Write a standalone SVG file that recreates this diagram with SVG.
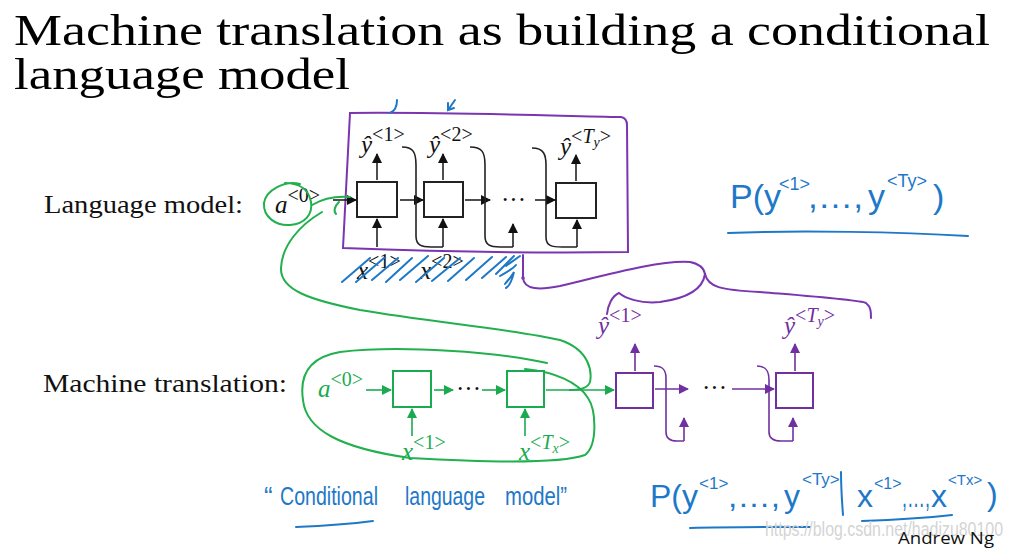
<svg xmlns="http://www.w3.org/2000/svg" width="1011" height="549" viewBox="0 0 1011 549">
<style>
.title{font-family:"Liberation Serif",serif;font-size:44px;fill:#000}
.lbl{font-family:"Liberation Serif",serif;font-size:25px;fill:#111}
.mi{font-family:"Liberation Serif",serif;font-style:italic;font-size:25px}
.sup{font-style:normal;font-size:20px}
.blk{fill:none;stroke:#222;stroke-width:1.6}
.box{fill:#fff;stroke:#222;stroke-width:2}
.gbox{fill:#fff;stroke:#1aab50;stroke-width:2}
.pbox{fill:#fff;stroke:#7030a0;stroke-width:2}
.ga{fill:none;stroke:#1aab50;stroke-width:1.6}
.pa{fill:none;stroke:#7030a0;stroke-width:1.6}
.hw{fill:none;stroke:#1e78c8;stroke-width:2;stroke-linecap:round}
.hwt{font-family:"Liberation Sans",sans-serif;fill:#1e78c8}
.gpen{fill:none;stroke:#22b04e;stroke-width:2;stroke-linecap:round}
.ppen{fill:none;stroke:#7a35b0;stroke-width:2;stroke-linecap:round}
</style>
<defs>
<marker id="ak" markerWidth="10" markerHeight="10" refX="9" refY="5" orient="auto" markerUnits="userSpaceOnUse"><path d="M0,0 L10,5 L0,10 Z" fill="#111"/></marker>
<marker id="ag" markerWidth="10" markerHeight="10" refX="9" refY="5" orient="auto" markerUnits="userSpaceOnUse"><path d="M0,0 L10,5 L0,10 Z" fill="#1aab50"/></marker>
<marker id="ap" markerWidth="10" markerHeight="10" refX="9" refY="5" orient="auto" markerUnits="userSpaceOnUse"><path d="M0,0 L10,5 L0,10 Z" fill="#7030a0"/></marker>
</defs>

<g id="title">
<text class="title" x="14" y="45" textLength="976" lengthAdjust="spacingAndGlyphs">Machine translation as building a conditional</text>
<text class="title" x="14" y="89" textLength="336" lengthAdjust="spacingAndGlyphs">language model</text>
</g>

<g id="labels">
<text class="lbl" x="44" y="213" textLength="199" lengthAdjust="spacingAndGlyphs">Language model:</text>
<text class="lbl" x="43" y="392" textLength="244" lengthAdjust="spacingAndGlyphs">Machine translation:</text>
</g>

<g id="lm-frame">
<path class="ppen" d="M350,113 C450,112 560,116 621,117 C626,118 627,121 627,125 L628,252 C560,253 450,252 343,248 L350,113 Z"/>
<path class="ppen" d="M523,255 L523,278 C524,290 540,290 560,286 C610,274 660,260 690,262 C700,264 704,268 705,274"/>
<circle cx="523" cy="278" r="1.8" fill="#7a35b0"/>
<path class="ppen" d="M705,274 C703,288 690,298 660,302 C640,304 625,298 619,293 C612,296 608,305 607,314"/>
<path class="ppen" d="M705,274 C708,287 720,290 760,292 C820,297 860,300 866,303 C871,307 871,312 871,318"/>
</g>

<g id="lm-a0"><text class="mi" x="275" y="213" fill="#111">a<tspan class="sup" dy="-11">&lt;0&gt;</tspan></text></g>
<g id="lm-cell1"><rect class="box" x="357" y="182" width="40" height="35"/><text class="mi" x="361" y="153" fill="#111">ŷ<tspan class="sup" dy="-12">&lt;1&gt;</tspan></text><text class="mi" x="357" y="279" fill="#111">x<tspan class="sup" dy="-11">&lt;1&gt;</tspan></text></g>
<g id="lm-cell2"><rect class="box" x="424" y="182" width="39" height="35"/><text class="mi" x="429" y="153" fill="#111">ŷ<tspan class="sup" dy="-12">&lt;2&gt;</tspan></text><text class="mi" x="420" y="279" fill="#111">x<tspan class="sup" dy="-11">&lt;2&gt;</tspan></text></g>
<g id="lm-dots"><text class="lbl" x="501" y="208">···</text></g>
<g id="lm-cell3"><rect class="box" x="556" y="183" width="40" height="35"/><text class="mi" x="560" y="155" fill="#111">ŷ<tspan class="sup" dy="-12">&lt;<tspan font-style="italic">T</tspan><tspan font-style="italic" font-size="14" dy="4">y</tspan><tspan dy="-4">&gt;</tspan></tspan></text></g>

<g id="lm-connectors">
<line class="blk" x1="333" y1="200" x2="356" y2="200" marker-end="url(#ak)"/>
<line class="blk" x1="400" y1="200" x2="423" y2="200" marker-end="url(#ak)"/>
<line class="blk" x1="465" y1="200" x2="490" y2="200" marker-end="url(#ak)"/>
<line class="blk" x1="535" y1="200" x2="555" y2="200" marker-end="url(#ak)"/>
<line class="blk" x1="377" y1="180" x2="377" y2="154" marker-end="url(#ak)"/>
<line class="blk" x1="443" y1="180" x2="443" y2="154" marker-end="url(#ak)"/>
<line class="blk" x1="576" y1="181" x2="576" y2="155" marker-end="url(#ak)"/>
<line class="blk" x1="377" y1="247" x2="377" y2="219" marker-end="url(#ak)"/>
<line class="blk" x1="443" y1="247" x2="443" y2="219" marker-end="url(#ak)"/>
<line class="blk" x1="513" y1="247" x2="513" y2="224" marker-end="url(#ak)"/>
<line class="blk" x1="577" y1="247" x2="577" y2="220" marker-end="url(#ak)"/>
<path class="blk" d="M402,147 C413,147 416,152 416,165 L416,236 C416,245 421,247 431,247 L443,247"/>
<path class="blk" d="M470,147 C482,147 485,152 485,165 L485,236 C485,245 490,247 500,247 L513,247"/>
<path class="blk" d="M532,148 C544,148 546,155 546,165 L546,237 C546,246 552,247 562,247 L577,247"/>
</g>

<g id="blue-marks">
<path class="hw" d="M397,100 C397,106 395,111 390,113"/>
<path class="hw" d="M455,100 L448,110 M448,103 L448,110 L454,108"/>
<path class="hw" d="M342,282 L370,258 M356,282 L384,258 M372,280 L398,258 M386,282 L412,258 M400,280 L428,256 M416,282 L444,258 M432,281 L460,258 M448,281 L474,258 M466,280 L492,257 M482,278 L506,257 M496,274 L514,256 M506,266 L520,256"/>
<path class="hw" d="M500,276 C506,272 512,270 516,265 M505,284 C508,280 512,276 514,272 C512,280 510,286 506,288"/>
</g>

<g id="green-marks">
<path class="gpen" d="M300,184 C285,180 266,190 264,203 C263,217 276,226 290,225 C305,224 313,214 311,202 C309,190 300,183 285,183"/>
<path class="gpen" d="M312,205 C322,199 336,196 350,197 M339,202 C335,206 333,211 336,214"/>
<path class="gpen" d="M322,212 C300,225 282,245 281,268 C280,290 310,300 360,310 C430,322 520,330 560,340 C590,350 592,372 590,382 C588,388 580,390 570,390"/>
<path class="gpen" d="M547,363 C500,352 400,345 340,352 C305,358 300,380 303,400 C306,430 340,448 410,458 C480,462 560,464 585,455 C598,445 596,410 588,398 C578,382 555,372 525,369"/>
</g>

<g id="mt-a0"><text class="mi" x="318" y="397" fill="#1aab50">a<tspan class="sup" dy="-11">&lt;0&gt;</tspan></text></g>
<g id="mt-enc1"><rect class="gbox" x="393" y="371" width="38" height="36"/><text class="mi" x="402" y="460" fill="#1aab50">x<tspan class="sup" dy="-11">&lt;1&gt;</tspan></text></g>
<g id="mt-enc-dots"><text class="lbl" x="456" y="397" fill="#1aab50">···</text></g>
<g id="mt-enc2"><rect class="gbox" x="507" y="371" width="37" height="36"/><text class="mi" x="519" y="460" fill="#1aab50">x<tspan class="sup" dy="-11">&lt;<tspan font-style="italic">T</tspan><tspan font-style="italic" font-size="14" dy="4">x</tspan><tspan dy="-4">&gt;</tspan></tspan></text></g>
<g id="mt-dec1"><rect class="pbox" x="616" y="373" width="37" height="35"/><text class="mi" x="598" y="334" fill="#7030a0">ŷ<tspan class="sup" dy="-12">&lt;1&gt;</tspan></text></g>
<g id="mt-dec-dots"><text class="lbl" x="702" y="396" fill="#7030a0">···</text></g>
<g id="mt-dec2"><rect class="pbox" x="776" y="373" width="37" height="35"/><text class="mi" x="784" y="334" fill="#7030a0">ŷ<tspan class="sup" dy="-12">&lt;<tspan font-style="italic">T</tspan><tspan font-style="italic" font-size="14" dy="4">y</tspan><tspan dy="-4">&gt;</tspan></tspan></text></g>

<g id="mt-connectors">
<line class="ga" x1="366" y1="390" x2="391" y2="390" marker-end="url(#ag)"/>
<line class="ga" x1="434" y1="390" x2="453" y2="390" marker-end="url(#ag)"/>
<line class="ga" x1="482" y1="390" x2="505" y2="390" marker-end="url(#ag)"/>
<line class="ga" x1="546" y1="390" x2="614" y2="390" marker-end="url(#ag)"/>
<line class="ga" x1="412" y1="436" x2="412" y2="409" marker-end="url(#ag)"/>
<line class="ga" x1="525" y1="436" x2="525" y2="409" marker-end="url(#ag)"/>
<line class="pa" x1="655" y1="389" x2="688" y2="389" marker-end="url(#ap)"/>
<line class="pa" x1="732" y1="389" x2="774" y2="389" marker-end="url(#ap)"/>
<line class="pa" x1="635" y1="371" x2="635" y2="344" marker-end="url(#ap)"/>
<line class="pa" x1="795" y1="371" x2="795" y2="344" marker-end="url(#ap)"/>
<path class="pa" d="M654,366 C663,366 666,370 666,378 L666,432 C666,438 670,441 677,441 L684,441"/>
<line class="pa" x1="684" y1="441" x2="684" y2="418" marker-end="url(#ap)"/>
<path class="pa" d="M757,366 C766,366 769,371 769,380 L769,432 C769,438 773,441 781,441 L793,441"/>
<line class="pa" x1="793" y1="441" x2="793" y2="418" marker-end="url(#ap)"/>
</g>

<g id="hw-top-formula" class="hwt">
<text font-size="34" x="730" y="208">P(y</text>
<text font-size="18" x="779" y="190">&lt;1&gt;</text>
<text font-size="34" x="808" y="208" textLength="55" lengthAdjust="spacingAndGlyphs">,…,</text>
<text font-size="34" x="868" y="208">y</text>
<text font-size="18" x="887" y="187">&lt;Ty&gt;</text>
<text font-size="34" x="933" y="208">)</text>
<path class="hw" d="M728,233 C800,230 900,232 968,236"/>
</g>

<g id="hw-caption" class="hwt">
<text font-size="26" x="264" y="505">“</text>
<text font-size="26" x="280" y="505" textLength="98" lengthAdjust="spacingAndGlyphs">Conditional</text>
<text font-size="26" x="405" y="505" textLength="80" lengthAdjust="spacingAndGlyphs">language</text>
<text font-size="26" x="505" y="505" textLength="62" lengthAdjust="spacingAndGlyphs">model”</text>
<path class="hw" d="M296,527 C320,526 350,524 373,521"/>
</g>

<g id="hw-bottom-formula" class="hwt">
<text font-size="32" x="650" y="507">P(y</text>
<text font-size="17" x="699" y="489">&lt;1&gt;</text>
<text font-size="32" x="728" y="507" textLength="52" lengthAdjust="spacingAndGlyphs">,…,</text>
<text font-size="32" x="784" y="507">y</text>
<text font-size="17" x="802" y="485">&lt;Ty&gt;</text>
<path class="hw" d="M841,472 C841,488 842,502 843,515"/>
<text font-size="32" x="857" y="507">x</text>
<text font-size="16" x="874" y="489">&lt;1&gt;</text>
<text font-size="32" x="902" y="507" textLength="28" lengthAdjust="spacingAndGlyphs">,…,</text>
<text font-size="32" x="931" y="507">x</text>
<text font-size="15" x="948" y="485">&lt;Tx&gt;</text>
<text font-size="32" x="987" y="505">)</text>
<path class="hw" d="M690,528 C730,527 780,527 810,527"/>
<path class="hw" d="M862,521 C890,520 925,518 952,515"/>
</g>

<g id="footer">
<text x="765" y="536" font-family="Liberation Sans,sans-serif" font-size="20" fill="#d4d4d4" textLength="238" lengthAdjust="spacingAndGlyphs">https://blog.csdn.net/hadizu80100</text>
<text x="898" y="544" font-family="Open Sans,sans-serif" font-size="17" fill="#111" textLength="96" lengthAdjust="spacingAndGlyphs">Andrew Ng</text>
</g>
</svg>
